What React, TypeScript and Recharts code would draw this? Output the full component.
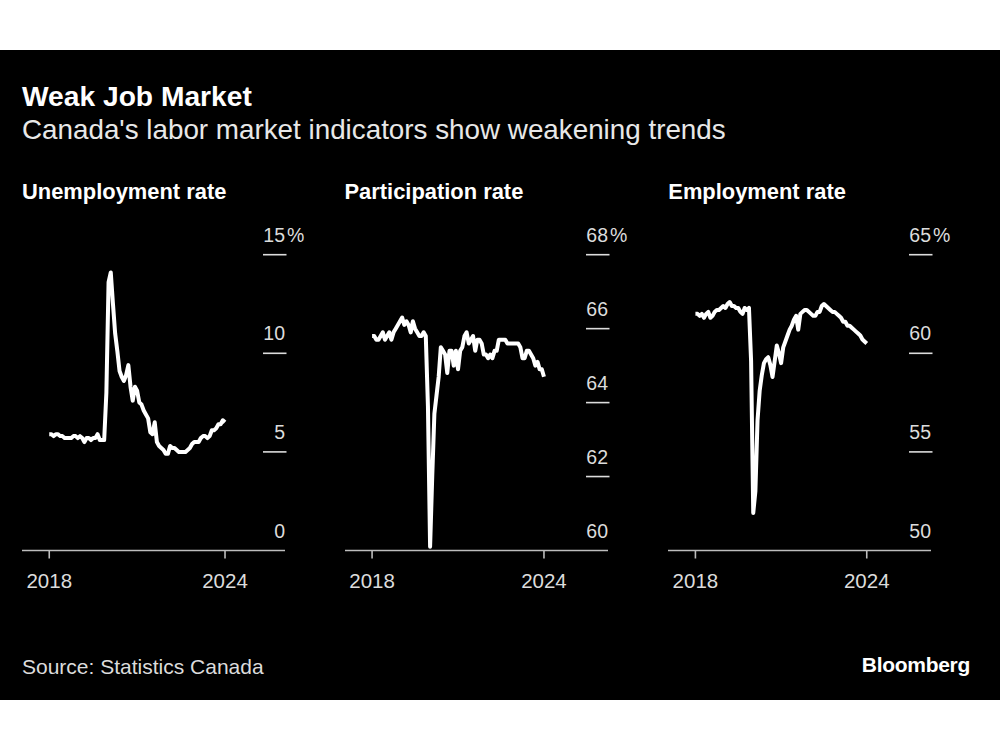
import React from 'react';
import { LineChart, Line, XAxis, YAxis } from 'recharts';

// monthly, Jan 2018 .. Sep 2024
const unemployment = [
    5.9, 5.9, 5.8, 5.9, 5.9, 5.8, 5.8, 5.7, 5.7, 5.7, 5.7, 5.8,
    5.8, 5.7, 5.8, 5.7, 5.5, 5.7, 5.7, 5.6, 5.7, 5.7, 5.9, 5.6,
    5.6, 5.6, 8.0, 13.6, 14.1, 12.5, 11.0, 10.1, 9.1, 8.8, 8.6, 8.9,
    9.4, 8.3, 7.6, 8.3, 8.1, 7.5, 7.4, 7.1, 6.9, 6.7, 6.0, 5.9,
    6.5, 5.5, 5.3, 5.2, 5.1, 4.9, 4.9, 5.3, 5.2, 5.2, 5.1, 5.0,
    5.0, 5.0, 5.0, 5.1, 5.2, 5.4, 5.5, 5.5, 5.5, 5.7, 5.8, 5.8,
    5.7, 5.8, 6.1, 6.1, 6.2, 6.4, 6.4, 6.6, 6.5,
];

const participation = [
    65.8, 65.8, 65.7, 65.7, 65.8, 65.9, 65.7, 65.8, 65.9, 65.7, 65.9, 66.0,
    66.1, 66.2, 66.3, 66.1, 66.2, 66.1, 65.9, 66.2, 66.0, 65.9, 65.8, 65.8,
    65.9, 65.8, 63.9, 60.1, 62.0, 63.7, 64.2, 64.7, 65.5, 65.4, 65.3, 64.8,
    65.4, 65.4, 65.0, 65.4, 64.9, 65.4, 65.5, 65.8, 65.9, 65.6, 65.7, 65.8,
    65.4, 65.7, 65.7, 65.6, 65.3, 65.3, 65.2, 65.3, 65.2, 65.4, 65.4, 65.7,
    65.7, 65.7, 65.7, 65.6, 65.6, 65.6, 65.6, 65.6, 65.6, 65.5, 65.2, 65.2,
    65.4, 65.4, 65.3, 65.2, 65.0, 65.1, 64.9, 64.9, 64.7,
];

const employment = [
    62.0, 62.0, 61.9, 62.0, 61.8, 62.0, 62.1, 61.8, 61.9, 62.1, 62.2, 62.2,
    62.3, 62.4, 62.3, 62.5, 62.6, 62.4, 62.4, 62.3, 62.3, 62.1, 62.0, 62.3,
    62.2, 62.3, 59.6, 51.9, 53.0, 56.6, 58.1, 58.9, 59.5, 59.7, 59.8, 59.4,
    58.8, 59.6, 60.4, 60.0, 59.5, 60.3, 60.6, 60.9, 61.2, 61.4, 61.7, 61.9,
    61.2, 62.0, 62.1, 62.2, 62.2, 62.1, 62.0, 61.9, 61.9, 62.1, 62.1, 62.4,
    62.5, 62.4, 62.3, 62.2, 62.1, 62.1, 62.0, 61.9, 61.8, 61.6, 61.6, 61.4,
    61.4, 61.3, 61.2, 61.1, 61.0, 60.9, 60.7, 60.6, 60.5,
];

const xTickLabels = ['2018', '2024'];

const unemploymentTicks = [0, 5, 10, 15];
const participationTicks = [60, 62, 64, 66, 68];
const employmentTicks = [50, 55, 60, 65];

const FONT = '"Liberation Sans", Arial, sans-serif';
const AXIS_GRAY = '#bdbdbd';
const LABEL = '#dcdcdc';

const PLOT_W = 263;
const CHART_W = 320;
const CHART_H = 400;
const MARGIN = { top: 54.7, right: 36, left: 20, bottom: 0 };

const YTick = ({ x, y, payload, min, max }: any) => {
    const v = payload.value;
    return (
        <g>
            {v !== min && (
                <line x1={x - 22} x2={x + 1.5} y1={y} y2={y} stroke={LABEL} strokeWidth={1.6} />
            )}
            <text x={x} y={y - 13} textAnchor="end" fill={LABEL} fontSize={19.5} fontFamily={FONT}>
                {v}
            </text>
            {v === max && (
                <text x={x + 2} y={y - 13} textAnchor="start" fill={LABEL} fontSize={19.5} fontFamily={FONT}>
                    %
                </text>
            )}
        </g>
    );
};

const XTick = ({ x, y, payload }: any) => (
    <text x={x} y={y + 29} textAnchor="middle" fill={LABEL} fontSize={20.5} fontFamily={FONT}>
        {payload.value === 0 ? xTickLabels[0] : xTickLabels[1]}
    </text>
);

function Panel({ title, values, ticks, xDomain, left }: {
    title: string;
    values: number[];
    ticks: number[];
    xDomain: [number, number];
    left: number;
}) {
    const data = values.map((v, i) => ({ i, v }));
    const min = ticks[0];
    const max = ticks[ticks.length - 1];
    return (
        <>
            <div style={{
                position: 'absolute', left, top: 179, color: '#fff', fontFamily: FONT,
                fontWeight: 700, fontSize: 21.9, whiteSpace: 'nowrap',
            }}>
                {title}
            </div>
            <div style={{ position: 'absolute', left: left - MARGIN.left, top: 200 }}>
                <LineChart width={CHART_W} height={CHART_H} data={data} margin={MARGIN}>
                    <XAxis
                        dataKey="i"
                        type="number"
                        domain={xDomain}
                        ticks={[0, values.length - 1]}
                        height={CHART_H - MARGIN.top - 295.8}
                        axisLine={{ stroke: AXIS_GRAY, strokeWidth: 1.6 }}
                        tickLine={{ stroke: AXIS_GRAY, strokeWidth: 1.6 }}
                        tickSize={8}
                        tickMargin={0}
                        tick={<XTick />}
                        allowDataOverflow
                    />
                    <YAxis
                        orientation="right"
                        type="number"
                        domain={[min, max]}
                        ticks={ticks}
                        width={CHART_W - MARGIN.left - MARGIN.right - PLOT_W}
                        axisLine={false}
                        tickLine={false}
                        tickSize={0}
                        tickMargin={0}
                        tick={<YTick min={min} max={max} />}
                        interval={0}
                    />
                    <Line
                        type="linear"
                        dataKey="v"
                        stroke="#ffffff"
                        strokeWidth={4}
                        strokeLinejoin="round"
                        dot={false}
                        isAnimationActive={false}
                    />
                </LineChart>
            </div>
        </>
    );
}

export default function App() {
    return (
        <div style={{ position: 'absolute', left: 0, top: 0, width: 1000, height: 750, background: '#fff', fontFamily: FONT }}>
            <div style={{ position: 'absolute', left: 0, top: 50, width: 1000, height: 650, background: '#000' }} />
            <div style={{ position: 'absolute', left: 22, top: 80, color: '#fff', fontWeight: 700, fontSize: 28.2, whiteSpace: 'nowrap' }}>
                Weak Job Market
            </div>
            <div style={{ position: 'absolute', left: 22, top: 114, color: '#e8e8e8', fontSize: 27.8, whiteSpace: 'nowrap' }}>
                Canada's labor market indicators show weakening trends
            </div>

            <Panel title="Unemployment rate" values={unemployment} ticks={unemploymentTicks} xDomain={[-12.4, 107.3]} left={22} />
            <Panel title="Participation rate" values={participation} ticks={participationTicks} xDomain={[-12.6, 109.8]} left={344.5} />
            <Panel title="Employment rate" values={employment} ticks={employmentTicks} xDomain={[-12.8, 110]} left={668.3} />

            <div style={{ position: 'absolute', left: 22, top: 655, color: LABEL, fontSize: 21, whiteSpace: 'nowrap' }}>
                Source: Statistics Canada
            </div>
            <div style={{ position: 'absolute', right: 30, top: 653, color: '#fff', fontWeight: 700, fontSize: 21, letterSpacing: -0.3, whiteSpace: 'nowrap' }}>
                Bloomberg
            </div>
        </div>
    );
}
